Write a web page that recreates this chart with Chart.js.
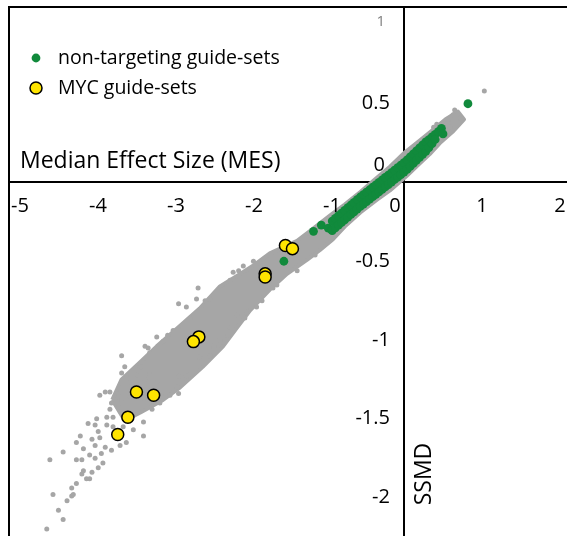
<!DOCTYPE html>
<html>
<head>
<meta charset="utf-8">
<title>SSMD vs MES</title>
<script src="https://cdn.jsdelivr.net/npm/chart.js"></script>
<style>
  html, body { margin: 0; padding: 0; background: #fff; }
  #wrap { width: 567px; height: 536px; position: relative; }
</style>
</head>
<body>
<div id="wrap"><canvas id="ssmd-chart"></canvas></div>
<script>
// tick labels
const xTicks = [-5, -4, -3, -2, -1, 0, 1, 2];
const yTicks = [1, 0.5, 0, -0.5, -1, -1.5, -2];

// [MES, SSMD]
const mycGuideSets = [
    [-1.52, -0.40], [-1.43, -0.42], [-1.78, -0.58], [-1.78, -0.60],
    [-2.63, -0.98], [-2.70, -1.01], [-3.43, -1.33], [-3.21, -1.35],
    [-3.54, -1.49], [-3.67, -1.60]
];

const nonTargeting = [
    [-1.54, -0.50], [-1.16, -0.31], [-1.06, -0.27], [-0.97, -0.29], [-0.93, -0.30],
    [-0.92, -0.245], [-0.92, -0.305], [-0.88, -0.228], [-0.88, -0.288],
    [-0.84, -0.211], [-0.84, -0.271], [-0.80, -0.194], [-0.80, -0.254],
    [-0.76, -0.177], [-0.76, -0.237], [-0.72, -0.160], [-0.72, -0.220],
    [-0.68, -0.143], [-0.68, -0.203], [-0.64, -0.126], [-0.64, -0.186],
    [-0.60, -0.109], [-0.60, -0.169], [-0.56, -0.092], [-0.56, -0.152],
    [-0.52, -0.077], [-0.52, -0.137], [-0.48, -0.061], [-0.48, -0.121],
    [-0.44, -0.046], [-0.44, -0.106], [-0.40, -0.030], [-0.40, -0.090],
    [-0.36, -0.015], [-0.36, -0.075], [-0.32, 0.001], [-0.32, -0.059],
    [-0.28, 0.016], [-0.28, -0.044], [-0.24, 0.032], [-0.24, -0.028],
    [-0.20, 0.047], [-0.20, -0.013], [-0.16, 0.063], [-0.16, 0.003],
    [-0.12, 0.079], [-0.12, 0.019], [-0.08, 0.094], [-0.08, 0.034],
    [-0.04, 0.110], [-0.04, 0.050], [0.00, 0.126], [0.00, 0.066],
    [0.04, 0.143], [0.04, 0.083], [0.08, 0.162], [0.08, 0.102],
    [0.12, 0.181], [0.12, 0.121], [0.16, 0.201], [0.16, 0.141],
    [0.20, 0.220], [0.20, 0.160], [0.24, 0.239], [0.24, 0.179],
    [0.28, 0.258], [0.28, 0.198], [0.32, 0.272], [0.32, 0.222],
    [0.36, 0.290], [0.36, 0.246], [0.40, 0.305], [0.40, 0.273],
    [0.44, 0.323], [0.48, 0.344], [0.50, 0.308], [0.82, 0.50]
];

// loose grey guide-sets outside the dense core
const allGuideSets = [
    [1.03, 0.58], [0.65, 0.46], [0.72, 0.41], [0.57, 0.40], [0.59, 0.35], [0.63, 0.43],
    [0.53, 0.32], [0.29, 0.29], [0.25, 0.25], [0.38, 0.35], [0.42, 0.37],
    [-2.64, -0.67], [-2.89, -0.77], [-2.79, -0.79], [-2.66, -0.74], [-2.49, -0.74],
    [-3.17, -0.98], [-3.09, -1.01], [-3.32, -1.04], [-3.28, -1.05], [-3.62, -1.10],
    [-3.58, -1.17], [-3.38, -1.17], [-2.96, -0.94], [-2.12, -0.56], [-1.93, -0.50],
    [-2.06, -0.53], [-2.23, -0.62], [-2.19, -0.57],
    [-1.68, -0.67], [-1.63, -0.65], [-2.02, -0.82], [-1.89, -0.79], [-2.14, -0.84],
    [-2.23, -0.92], [-2.36, -1.00], [-2.44, -1.04], [-2.62, -1.11], [-2.79, -1.19],
    [-2.79, -1.23], [-2.91, -1.30], [-2.89, -1.34], [-2.89, -1.23], [-3.06, -1.36],
    [-3.13, -1.40], [-3.23, -1.44], [-3.34, -1.52], [-3.34, -1.61], [-3.17, -1.27],
    [-3.26, -1.22], [-3.32, -1.25], [-3.34, -1.37], [-3.47, -1.57],
    [-3.43, -1.22], [-3.56, -1.24], [-3.51, -1.27], [-3.62, -1.21], [-3.83, -1.33],
    [-3.77, -1.33], [-3.90, -1.35], [-3.68, -1.34], [-3.66, -1.36], [-3.75, -1.40],
    [-3.62, -1.39], [-3.51, -1.36], [-3.77, -1.44], [-3.81, -1.49], [-3.66, -1.43],
    [-3.73, -1.49], [-3.94, -1.50], [-3.96, -1.54], [-4.05, -1.53], [-3.92, -1.58],
    [-3.90, -1.62], [-4.00, -1.63], [-4.15, -1.61], [-4.20, -1.65], [-3.83, -1.68],
    [-3.75, -1.70], [-3.64, -1.67], [-3.56, -1.65], [-3.96, -1.67], [-3.88, -1.72],
    [-3.96, -1.75], [-4.03, -1.73], [-4.11, -1.69], [-4.13, -1.76], [-4.20, -1.76],
    [-4.37, -1.71], [-4.54, -1.76], [-3.86, -1.78], [-3.92, -1.81], [-4.00, -1.84],
    [-4.11, -1.83], [-4.07, -1.88], [-4.13, -1.85], [-4.03, -1.88], [-4.20, -1.91],
    [-4.26, -1.94], [-4.32, -2.02], [-4.50, -1.98], [-4.26, -1.99], [-4.43, -2.08],
    [-4.37, -2.14], [-4.58, -2.20], [-4.24, -1.98],
    [-3.60, -1.55], [-3.51, -1.51], [-3.73, -1.55], [-3.81, -1.54],
    [-2.55, -0.75], [-2.74, -0.86], [-3.03, -0.97], [-3.26, -1.08], [-1.85, -0.51],
    [-1.82, -0.75], [-2.04, -0.86], [-2.26, -0.97], [-2.49, -1.10], [-2.72, -1.22],
    [-3.00, -1.35], [-1.37, -0.56], [-1.14, -0.46]
];

// outline of the dense grey core (too many dots to list one by one)
const denseBand = [
    [-3.74, -1.38], [-3.62, -1.25], [-3.38, -1.14], [-3.17, -1.04], [-2.87, -0.91],
    [-2.62, -0.80], [-2.36, -0.66], [-2.10, -0.58], [-1.91, -0.52], [-1.72, -0.45],
    [-1.37, -0.37], [-1.21, -0.31], [-0.95, -0.21], [-0.76, -0.14], [-0.56, -0.06],
    [-0.37, 0.02], [-0.18, 0.10], [0.01, 0.19], [0.21, 0.27], [0.36, 0.33],
    [0.53, 0.40], [0.69, 0.45],
    [0.77, 0.40], [0.62, 0.32], [0.46, 0.25], [0.33, 0.18], [0.18, 0.11],
    [0.03, 0.04], [-0.18, -0.05], [-0.35, -0.11], [-0.56, -0.19], [-0.76, -0.28],
    [-0.91, -0.36], [-1.08, -0.43], [-1.24, -0.49], [-1.50, -0.58], [-1.72, -0.68],
    [-1.97, -0.81], [-2.14, -0.92], [-2.32, -1.04], [-2.58, -1.17], [-2.87, -1.30],
    [-3.09, -1.38], [-3.38, -1.46], [-3.58, -1.51], [-3.74, -1.38]
];

const toPoints = arr => arr.map(p => ({x: p[0], y: p[1]}));

const GREY = '#A6A6A6';
const GREEN = '#118A3C';
const YELLOW = '#FFE500';
const FONT = '"Open Sans", "Noto Sans", sans-serif';

const mycSet = {
    label: 'MYC guide-sets',
    data: toPoints(mycGuideSets),
    backgroundColor: YELLOW,
    borderColor: '#000',
    borderWidth: 1.5,
    pointRadius: 6
};
const ntSet = {
    label: 'non-targeting guide-sets',
    data: toPoints(nonTargeting),
    backgroundColor: GREEN,
    borderWidth: 0,
    pointRadius: 4.4
};

// axis labels, titles, frame and legend drawn on top of the plot
const decorPlugin = {
    id: 'decor',
    afterDraw(chart) {
        const {ctx, chartArea, scales: {x, y}} = chart;
        const x0 = x.getPixelForValue(0);
        const y0 = y.getPixelForValue(0);
        ctx.save();

        // frame: only left and top are inside the picture
        ctx.strokeStyle = '#000';
        ctx.lineWidth = 2;
        ctx.beginPath();
        ctx.moveTo(chartArea.left, chartArea.bottom);
        ctx.lineTo(chartArea.left, chartArea.top);
        ctx.lineTo(chartArea.right, chartArea.top);
        ctx.stroke();

        ctx.fillStyle = '#000';
        ctx.font = '20px ' + FONT;
        ctx.textAlign = 'center';
        ctx.textBaseline = 'middle';
        xTicks.forEach(v => {
            let dx = v < 0 ? 6 : 0;
            if (v === 0) dx = -9;
            ctx.fillText(String(v), x.getPixelForValue(v) + dx, y0 + 24);
        });

        ctx.textAlign = 'right';
        yTicks.forEach(v => {
            let px = x0 - 14, py = y.getPixelForValue(v);
            if (v === 0) { px = x0 - 19; py -= 17; }
            if (v === 1) {
                ctx.save();
                ctx.fillStyle = '#7F7F7F';
                ctx.font = '15px ' + FONT;
                ctx.fillText('1', x0 - 19, py - 3);
                ctx.restore();
                return;
            }
            ctx.fillText(String(v), px, py);
        });

        // axis titles
        ctx.font = '23px ' + FONT;
        ctx.textAlign = 'left';
        ctx.fillText('Median Effect Size (MES)', chartArea.left + 11, y0 - 21);
        ctx.save();
        ctx.translate(x0 + 20, chartArea.bottom - 62);
        ctx.rotate(-Math.PI / 2);
        ctx.textAlign = 'center';
        ctx.fillText('SSMD', 0, 0);
        ctx.restore();

        // legend
        ctx.font = '19.5px ' + FONT;
        ctx.textAlign = 'left';
        [[ntSet, 58], [mycSet, 88]].forEach(([ds, ly]) => {
            const mx = chartArea.left + 27;
            ctx.beginPath();
            ctx.arc(mx, ly, ds.pointRadius, 0, Math.PI * 2);
            ctx.fillStyle = ds.backgroundColor;
            ctx.fill();
            if (ds.borderWidth) {
                ctx.lineWidth = ds.borderWidth;
                ctx.strokeStyle = ds.borderColor;
                ctx.stroke();
            }
            ctx.fillStyle = '#000';
            ctx.fillText(ds.label, chartArea.left + 49, ly);
        });
        ctx.restore();
    }
};

const zeroPadding = scale => {
    scale.paddingLeft = scale.paddingRight = scale.paddingTop = scale.paddingBottom = 0;
};

new Chart(document.getElementById('ssmd-chart'), {
    type: 'scatter',
    data: {
        datasets: [
            mycSet,
            ntSet,
            {
                label: 'all guide-sets',
                data: toPoints(allGuideSets),
                backgroundColor: GREY,
                borderWidth: 0,
                pointRadius: 2.5
            },
            {
                label: 'dense core',
                data: toPoints(denseBand),
                showLine: true,
                fill: 'shape',
                backgroundColor: GREY,
                borderColor: GREY,
                borderWidth: 4,
                borderJoinStyle: 'round',
                pointRadius: 0,
                tension: 0
            }
        ]
    },
    options: {
        responsive: true,
        maintainAspectRatio: false,
        animation: false,
        events: [],
        layout: {
            autoPadding: false,
            padding: { left: 9, top: 7, right: 0, bottom: 0 }
        },
        plugins: {
            legend: { display: false },
            tooltip: { enabled: false }
        },
        scales: {
            x: {
                type: 'linear',
                position: { y: 0 },
                min: -5.064,
                max: 2.09,
                grid: { display: false },
                border: { display: true, color: '#000', width: 2 },
                ticks: { display: false },
                afterFit: zeroPadding
            },
            y: {
                type: 'linear',
                position: { x: 0 },
                min: -2.244,
                max: 1.114,
                grid: { display: false },
                border: { display: true, color: '#000', width: 2 },
                ticks: { display: false },
                afterFit: zeroPadding
            }
        }
    },
    plugins: [decorPlugin]
});
</script>
</body>
</html>
